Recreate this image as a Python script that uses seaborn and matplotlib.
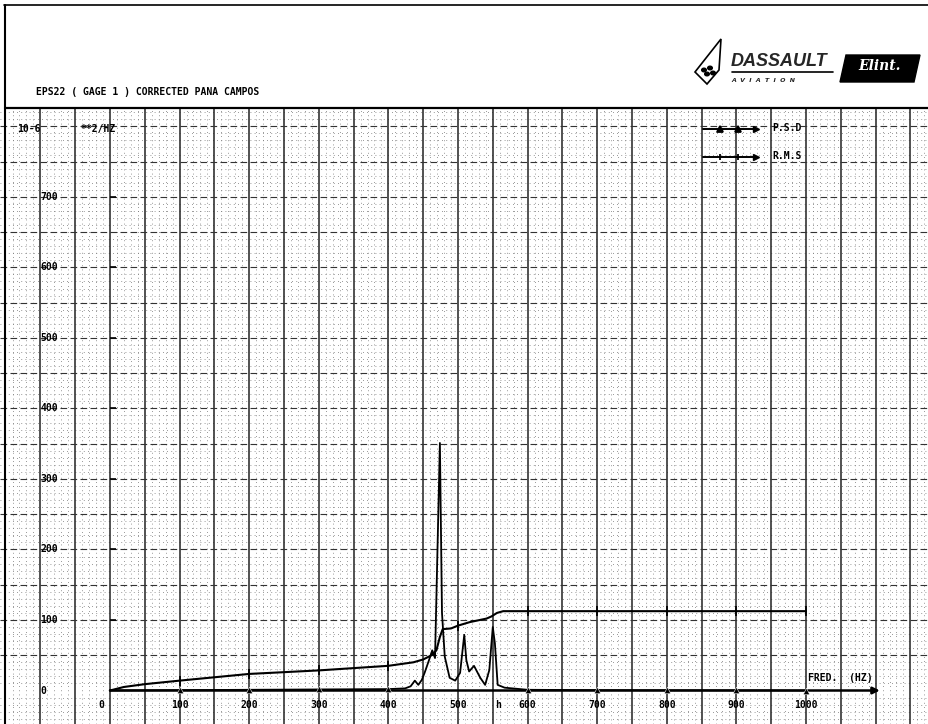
import numpy as np
import pandas as pd
import matplotlib
matplotlib.use("Agg")
import matplotlib.pyplot as plt
import seaborn as sns
from matplotlib.lines import Line2D
from matplotlib.patches import Polygon, Circle

# PSD curve (10-6 **2/HZ)
psd_freq = [0, 100, 200, 300, 400, 424, 432, 438, 443, 448, 452, 458, 460, 463, 467,
            474, 477, 481, 488, 496, 503, 509, 512, 516, 523, 532, 539, 545, 550,
            553, 557, 567, 600, 700, 800, 900, 1000]
psd_val = [0, 0.5, 1, 1.5, 2, 3, 6, 14, 8, 15, 25, 42, 48, 57, 46,
           351, 110, 48, 18, 14, 25, 79, 43, 27, 35, 18, 8, 29, 90,
           67, 8, 4, 1, 0.5, 0.3, 0.2, 0]

# RMS curve
rms_freq = [0, 20, 50, 100, 200, 300, 400, 436, 450, 462, 469, 474, 478, 490, 500,
            517, 541, 548, 556, 565, 600, 700, 800, 900, 1000]
rms_val = [0, 5, 9, 14, 23.5, 28.5, 35, 40, 44, 50, 57, 76, 87, 88, 92,
           97, 102, 105, 110, 112.5, 112.5, 112.5, 112.5, 112.5, 112.5]

x_ticks = [0, 100, 200, 300, 400, 500, 600, 700, 800, 900, 1000]
y_ticks = [0, 100, 200, 300, 400, 500, 600, 700]

psd = pd.DataFrame({"freq": psd_freq, "val": psd_val})
rms = pd.DataFrame({"freq": rms_freq, "val": rms_val})

sns.set_style("white")
plt.rcParams["font.family"] = ["DejaVu Sans Mono", "DejaVu Sans"]
mono = dict(family="DejaVu Sans Mono", weight="bold", size=7, color="black")

W, H = 929, 724
fig = plt.figure(figsize=(W / 100, H / 100), dpi=100)


def fx(x):
    return x / W


def fy(y):
    return 1 - y / H


# graph paper area under the header
ax = fig.add_axes([0, 0, 1, (H - 108) / H])
ax.set_xlim(-158, 1176.7)
ax.set_ylim(-47.5, 826)
ax.axis("off")

# minor dotted grid every 10 units, major every 50
for gx in range(-150, 1180, 10):
    if gx % 50:
        ax.axvline(gx, color="#777777", lw=0.6, ls=(0, (1, 4)), zorder=0)
for gy in range(-40, 830, 10):
    if gy % 50:
        ax.axhline(gy, color="#777777", lw=0.6, ls=(0, (1, 4)), zorder=0)
for gx in range(-100, 1180, 50):
    ax.axvline(gx, color="#222222", lw=1.1, zorder=1)
for gy in range(50, 830, 50):
    ax.axhline(gy, color="#333333", lw=0.8, ls=(0, (6, 3)), zorder=1)

# curves
sns.lineplot(data=psd, x="freq", y="val", color="black", lw=1.3, ax=ax,
             sort=False, zorder=4)
sns.lineplot(data=rms, x="freq", y="val", color="black", lw=1.5, ax=ax,
             sort=False, zorder=4)
psd_marks = psd[psd["freq"].isin(x_ticks[1:])]
rms_marks = rms[rms["freq"].isin(x_ticks[1:])]
sns.scatterplot(data=psd_marks, x="freq", y="val", marker="^", s=22,
                color="black", ax=ax, zorder=5)
sns.scatterplot(data=rms_marks, x="freq", y="val", marker="|", s=45,
                color="black", linewidth=1.3, ax=ax, zorder=5)
ax.set_xlabel("")
ax.set_ylabel("")

# x axis with arrow, y tick dashes
ax.annotate("", xy=(1106, 0), xytext=(0, 0),
            arrowprops=dict(arrowstyle="-|>", lw=1.8, color="black",
                            mutation_scale=10, shrinkA=0, shrinkB=0), zorder=3)
ax.hlines(y_ticks[1:], 0, 9, color="black", lw=1.2, zorder=3)

for v in y_ticks:
    ax.text(-100, v, str(v), ha="left", va="center", **mono)
for v in x_ticks:
    ax.text(v if v else -12, -20.5, str(v), ha="center", va="center", **mono)
ax.text(557, -20.5, "h", ha="center", va="center", **mono)
ax.text(1003, 17.7, "FRED.  (HZ)", ha="left", va="center", **mono)
ax.text(-133, 796, "10-6", ha="left", va="center", **mono)
ax.text(-43, 796, "**2/HZ", ha="left", va="center", **mono)

# legend drawn as on the plotter sheet
for ly, mk, lab in [(129, "^", "P.S.D"), (157, "|", "R.M.S")]:
    fig.add_artist(Line2D([fx(703), fx(756)], [fy(ly)] * 2, color="black", lw=1.4))
    fig.add_artist(Line2D([fx(720), fx(738)], [fy(ly)] * 2, color="black", lw=0,
                          marker=mk, markersize=5, markeredgewidth=1.3))
    fig.add_artist(Line2D([fx(756)], [fy(ly)], color="black", lw=0,
                          marker=">", markersize=5))
    fig.text(fx(772), fy(ly - 1), lab, ha="left", va="center", **mono)

# header frame
fig.add_artist(Line2D([fx(4), 1], [fy(5)] * 2, color="black", lw=1.2))
fig.add_artist(Line2D([fx(5)] * 2, [0, fy(5)], color="black", lw=1.5))
fig.add_artist(Line2D([fx(5), 1], [fy(108)] * 2, color="black", lw=1.6))
fig.text(fx(36), fy(92), "EPS22 ( GAGE 1 ) CORRECTED PANA CAMPOS",
         ha="left", va="center", **mono)

# logo
fig.add_artist(Polygon([(fx(721), fy(39)), (fx(695), fy(72)), (fx(707), fy(84)),
                        (fx(719), fy(70))], closed=True, fill=False,
                       edgecolor="black", lw=1.2))
for cx, cy in [(704, 70), (710, 68), (707, 74), (713, 73)]:
    fig.add_artist(Circle((fx(cx), fy(cy)), 0.0025, color="black"))
fig.text(fx(731), fy(62), "DASSAULT", ha="left", va="center", family="Liberation Sans",
         weight="bold", style="italic", size=13)
fig.add_artist(Line2D([fx(732), fx(833)], [fy(72)] * 2, color="black", lw=1.2))
fig.text(fx(731), fy(80), "A  V  I  A  T  I  O  N", ha="left", va="center",
         family="DejaVu Sans", weight="bold", style="italic", size=4.5)
fig.add_artist(Polygon([(fx(846), fy(55)), (fx(920), fy(55)), (fx(914), fy(82)),
                        (fx(840), fy(82))], closed=True, color="black"))
fig.text(fx(880), fy(66), "Elint.", ha="center", va="center", color="white",
         family="DejaVu Serif", weight="bold", style="italic", size=10)

fig.savefig("out.png", dpi=100, facecolor="white")
